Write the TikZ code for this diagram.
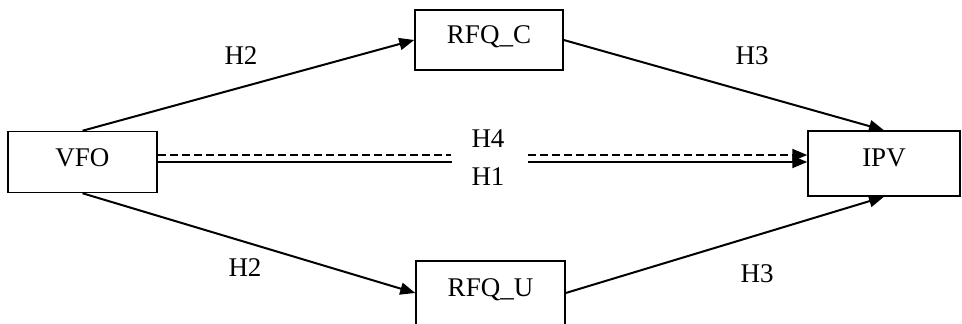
\documentclass[tikz,border=0pt]{standalone}
\usepackage{fontspec}
\setmainfont{Liberation Serif}
\usetikzlibrary{arrows.meta}
\begin{document}
\begin{tikzpicture}[x=1pt,y=-1pt,
  box/.style={draw,line width=1.5pt,inner sep=0pt,font={\fontsize{27}{30}\selectfont}},
  lbl/.style={font={\fontsize{27}{30}\selectfont},inner sep=0pt},
  tip/.style={-{Triangle[length=15pt,width=12pt]}},
  conn/.style={line width=2pt,tip},
  plain/.style={line width=2pt},
  dashconn/.style={line width=2pt,dash pattern=on 8pt off 4pt}]
\useasboundingbox (0,0) rectangle (962,324);
\node[box,minimum width=149pt,minimum height=61pt] (vfo) at (82.5,162) {\raisebox{8pt}{VFO}};
\node[box,minimum width=152pt,minimum height=65pt] (ipv) at (884,163.5) {\raisebox{12pt}{IPV}};
\node[box,minimum width=148pt,minimum height=60pt] (rfqc) at (489,40) {\raisebox{11pt}{RFQ\_C}};
\node[box,minimum width=149pt,minimum height=70pt] (rfqu) at (490.5,296) {\raisebox{17pt}{RFQ\_U}};
\coordinate (uw) at (rfqu.west |- 0,293);
\coordinate (ue) at (rfqu.east |- 0,293);
\draw[conn] (vfo.north) -- (rfqc.west);
\draw[conn] (rfqc.east) -- (ipv.north);
\draw[conn] (vfo.south) -- (uw);
\draw[conn] (ue) -- (ipv.south);
\coordinate (d0) at (vfo.east |- 0,155);
\coordinate (d1) at (451,155);
\coordinate (d2) at (528,155);
\coordinate (d3) at (ipv.west |- 0,155);
\coordinate (s0) at (vfo.east |- 0,162);
\coordinate (s1) at (452,162);
\coordinate (s2) at (528,162);
\coordinate (s3) at (ipv.west |- 0,162);
\draw[dashconn] (d0) -- (d1);
\draw[dashconn,tip] (d2) -- (d3);
\draw[plain] (s0) -- (s1);
\draw[conn] (s2) -- (s3);
\node[lbl] (h2a) at (241,56) {H2};
\node[lbl] (h3a) at (752,56) {H3};
\node[lbl] (h4) at (488,139) {H4};
\node[lbl] (h1) at (488,177) {H1};
\node[lbl] (h2b) at (245,268) {H2};
\node[lbl] (h3b) at (757,274) {H3};
\end{tikzpicture}
\end{document}
